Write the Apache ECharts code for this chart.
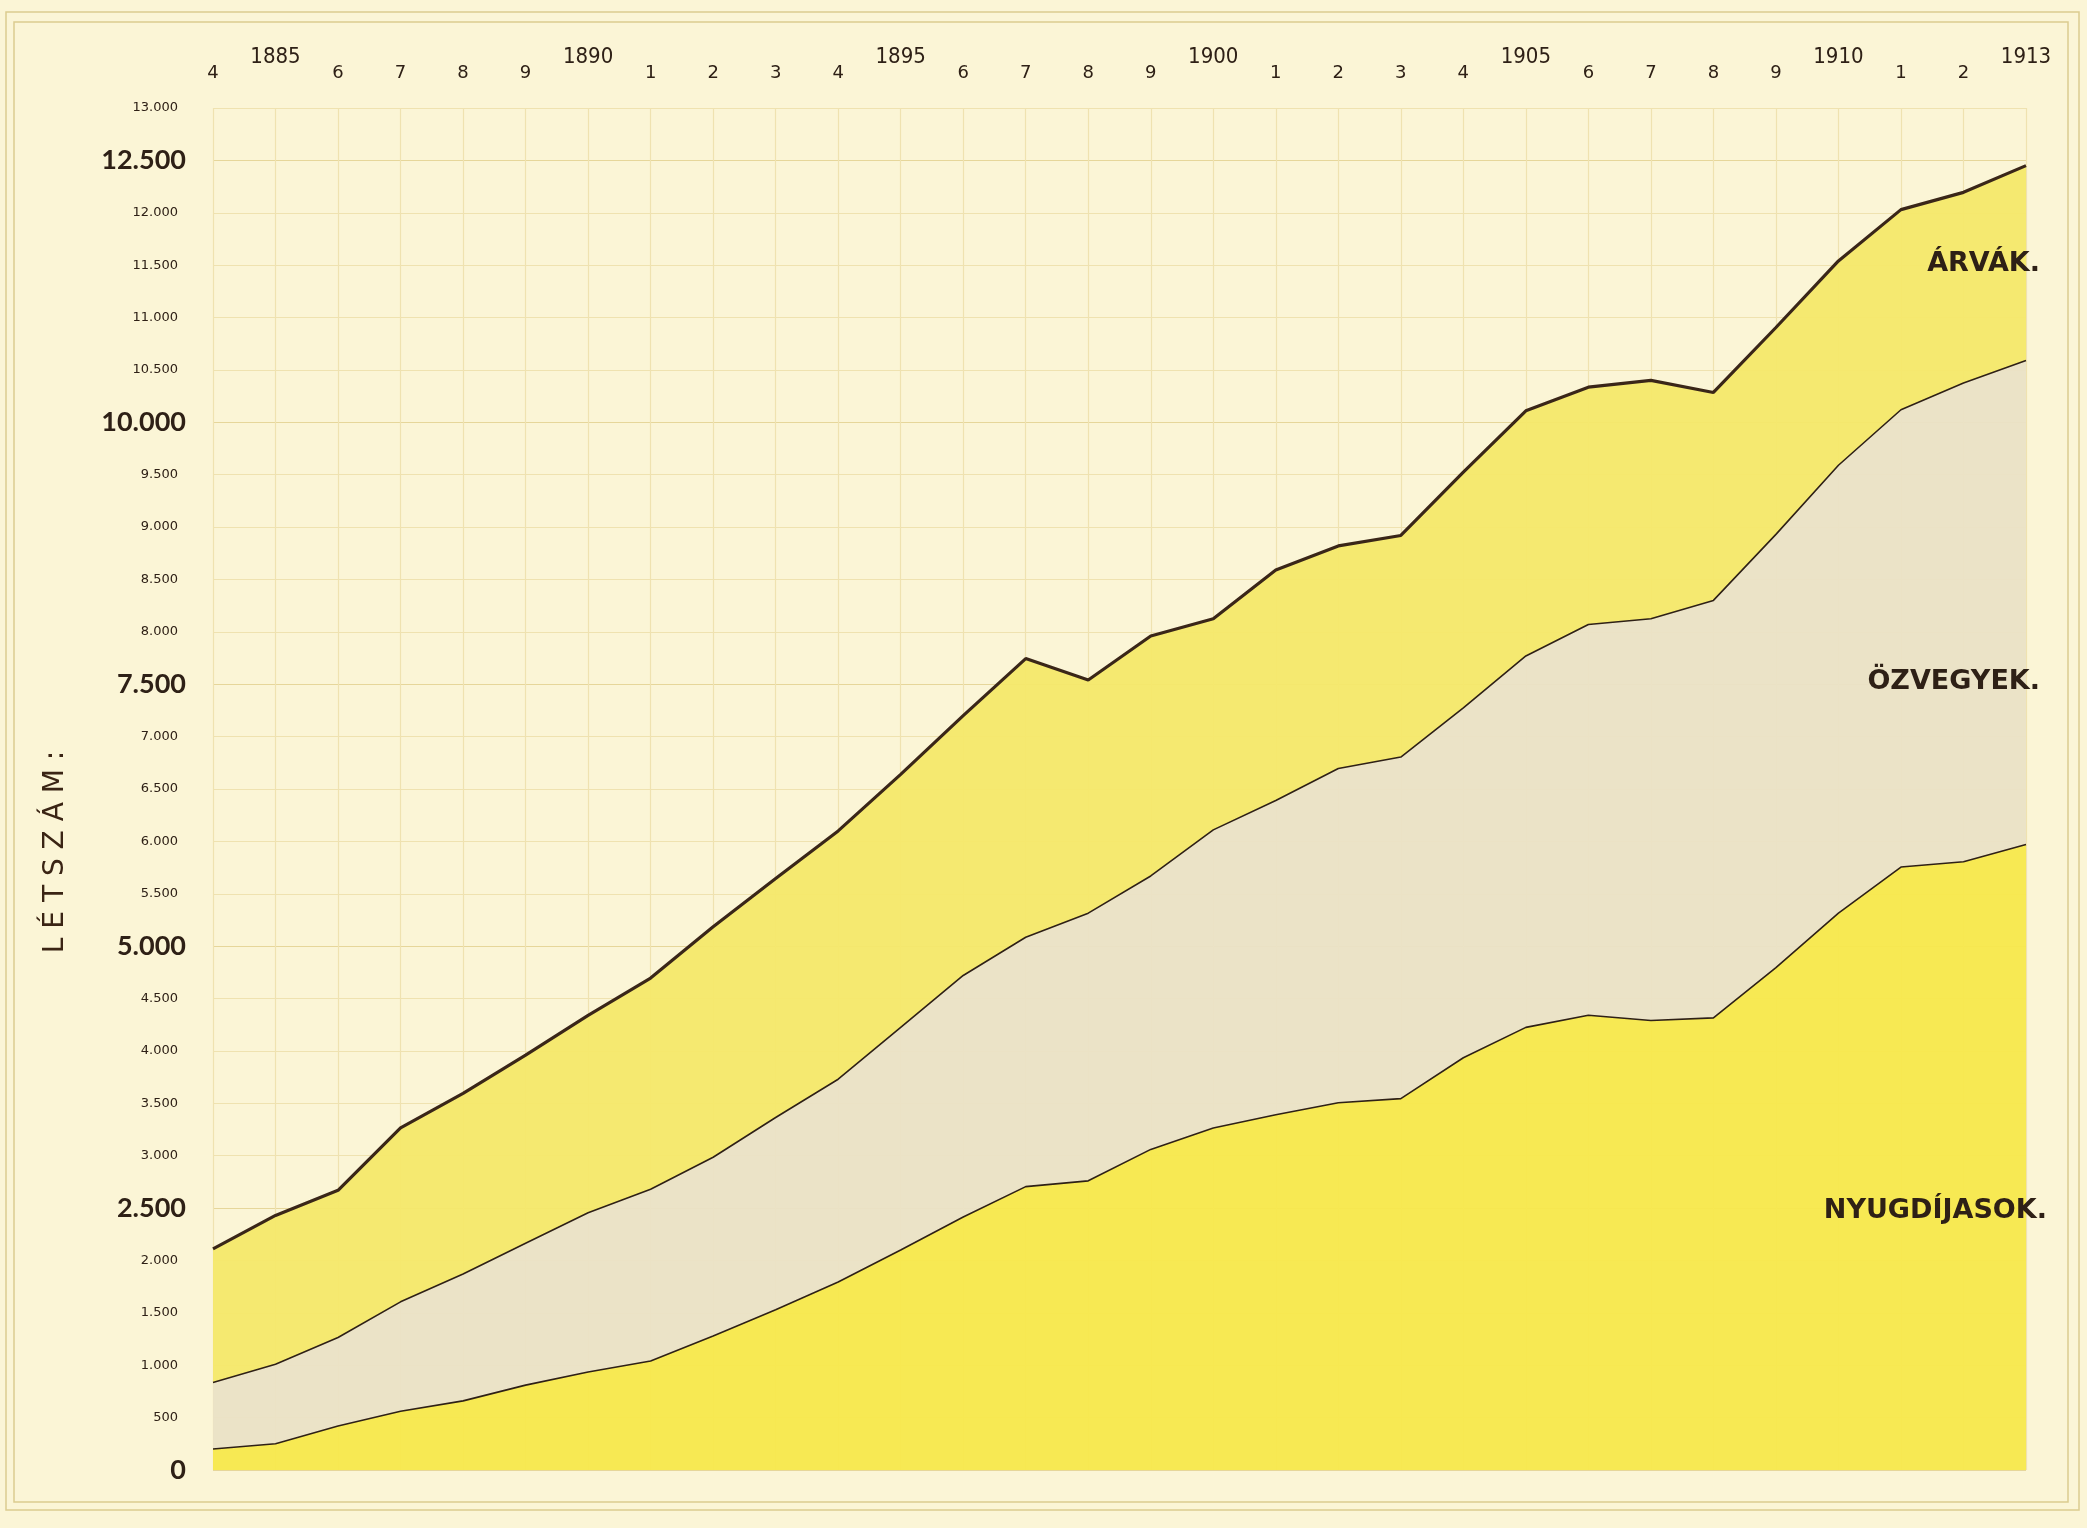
<!DOCTYPE html>
<html>
<head>
<meta charset="utf-8">
<script src="https://cdn.jsdelivr.net/npm/echarts@6/dist/echarts.min.js"></script>
<style>
html, body { margin: 0; padding: 0; background: #fbf5d6; }
#chart { width: 2087px; height: 1528px; }
</style>
</head>
<body>
<div id="chart"></div>
<script>
// years on the category axis
var years = ['1884','1885','1886','1887','1888','1889','1890','1891','1892','1893',
	'1894','1895','1896','1897','1898','1899','1900','1901','1902','1903',
	'1904','1905','1906','1907','1908','1909','1910','1911','1912','1913'];
// the labels as written over the columns
var topLabels = ['4','1885','6','7','8','9','1890','1','2','3',
	'4','1895','6','7','8','9','1900','1','2','3',
	'4','1905','6','7','8','9','1910','1','2','1913'];

// nyugdíjasok (pensioners)
var pensioners = [200, 250, 420, 560, 660, 810, 935, 1040, 1280, 1530,
	1795, 2100, 2415, 2705, 2760, 3060, 3265, 3390, 3505, 3545,
	3935, 4225, 4340, 4290, 4315, 4795, 5315, 5755, 5805, 5970];
// özvegyek (widows)
var widows = [635, 760, 845, 1045, 1210, 1355, 1520, 1640, 1705, 1835,
	1935, 2125, 2305, 2380, 2555, 2610, 2845, 3000, 3190, 3260,
	3340, 3545, 3730, 3835, 3985, 4135, 4275, 4365, 4570, 4620];
// árvák (orphans)
var orphans = [1275, 1420, 1405, 1660, 1725, 1795, 1885, 2015, 2200, 2280,
	2370, 2415, 2480, 2660, 2225, 2290, 2015, 2200, 2125, 2115,
	2250, 2340, 2265, 2275, 1985, 1975, 1950, 1910, 1820, 1860];

var ink = '#2e2016';
var gridColor = '#efe2b0';

// 12500 -> "12.500"
var fmtNum = function(v) {
	if (v < 1000) {
		return '' + v;
	}
	return Math.floor(v / 1000) + '.' + ('00' + (v % 1000)).slice(-3);
};

var labelText = function(text, x, y) {
	return {
		type : 'text',
		x : x,
		y : y,
		style : {
			text : text,
			fontFamily : 'DejaVu Sans',
			fontWeight : 'bold',
			fontSize : 27,
			fill : ink,
			textAlign : 'right',
			textVerticalAlign : 'middle'
		},
		z : 10
	};
};

var myChart = echarts.init(document.getElementById('chart'));
var option = {
	backgroundColor : '#fbf5d6',
	animation : false,
	grid : {
		left : 213,
		top : 108,
		width : 1813,
		height : 1362
	},
	xAxis : {
		type : 'category',
		position : 'top',
		boundaryGap : false,
		data : years,
		axisLine : { show : false },
		axisTick : {
			show : true,
			interval : 0,
			length : 22,
			lineStyle : { color : gridColor }
		},
		axisLabel : {
			interval : 0,
			margin : 26,
			formatter : function(value, index) {
				var t = topLabels[index];
				return t.length > 2 ? '{big|' + t + '}' : '{small|' + t + '}';
			},
			rich : {
				big : {
					fontFamily : 'Liberation Sans Narrow, DejaVu Sans Condensed, DejaVu Sans',
					fontSize : 22,
					color : ink,
					padding : [0, 0, 14, 0]
				},
				small : {
					fontFamily : 'DejaVu Sans',
					fontSize : 18,
					color : ink
				}
			}
		},
		splitLine : {
			show : true,
			interval : 0,
			lineStyle : { color : gridColor, width : 1.2 }
		}
	},
	yAxis : {
		type : 'value',
		min : 0,
		max : 13000,
		interval : 500,
		axisLine : { show : false },
		axisTick : { show : false },
		axisLabel : {
			margin : 27,
			formatter : function(v) {
				return v % 2500 === 0 ? '{big|' + fmtNum(v) + '}' : '{small|' + fmtNum(v) + '}';
			},
			rich : {
				big : {
					fontFamily : 'Lato, DejaVu Sans',
					fontWeight : 'bold',
					fontSize : 27,
					color : ink
				},
				small : {
					fontFamily : 'DejaVu Sans',
					fontSize : 13,
					color : ink,
					padding : [0, 8, 0, 0]
				}
			}
		},
		splitLine : {
			show : true,
			lineStyle : {
				color : ['#e6d69a', gridColor, gridColor, gridColor, gridColor],
				width : 1.2
			}
		}
	},
	series : [ {
		name : 'Nyugdíjasok',
		type : 'line',
		stack : 'total',
		data : pensioners,
		symbol : 'none',
		lineStyle : { color : ink, width : 1.6 },
		areaStyle : { color : '#f7e84c', opacity : 0.95 }
	}, {
		name : 'Özvegyek',
		type : 'line',
		stack : 'total',
		data : widows,
		symbol : 'none',
		lineStyle : { color : ink, width : 1.6 },
		areaStyle : { color : '#eae1c6', opacity : 0.95 }
	}, {
		name : 'Árvák',
		type : 'line',
		stack : 'total',
		data : orphans,
		symbol : 'none',
		lineStyle : { color : '#3a2618', width : 3.2 },
		areaStyle : { color : '#f4e86a', opacity : 0.95 }
	} ],
	graphic : [ {
		type : 'rect',
		shape : { x : 6, y : 12, width : 2073, height : 1498 },
		style : { fill : 'none', stroke : '#dccb90', lineWidth : 1.5 },
		z : -1
	}, {
		type : 'rect',
		shape : { x : 14, y : 22, width : 2054, height : 1480 },
		style : { fill : 'none', stroke : '#dccb90', lineWidth : 1.5 },
		z : -1
	}, {
		// tengelynév
		type : 'text',
		x : 56,
		y : 852,
		rotation : Math.PI / 2,
		style : {
			text : 'L É T S Z Á M :',
			fontFamily : 'DejaVu Sans',
			fontSize : 28,
			fill : '#3a2414',
			textAlign : 'center',
			textVerticalAlign : 'middle'
		},
		z : 10
	},
		labelText('ÁRVÁK.', 2040, 264),
		labelText('ÖZVEGYEK.', 2040, 682),
		labelText('NYUGDÍJASOK.', 2047, 1211)
	]
};
myChart.setOption(option);
</script>
</body>
</html>
